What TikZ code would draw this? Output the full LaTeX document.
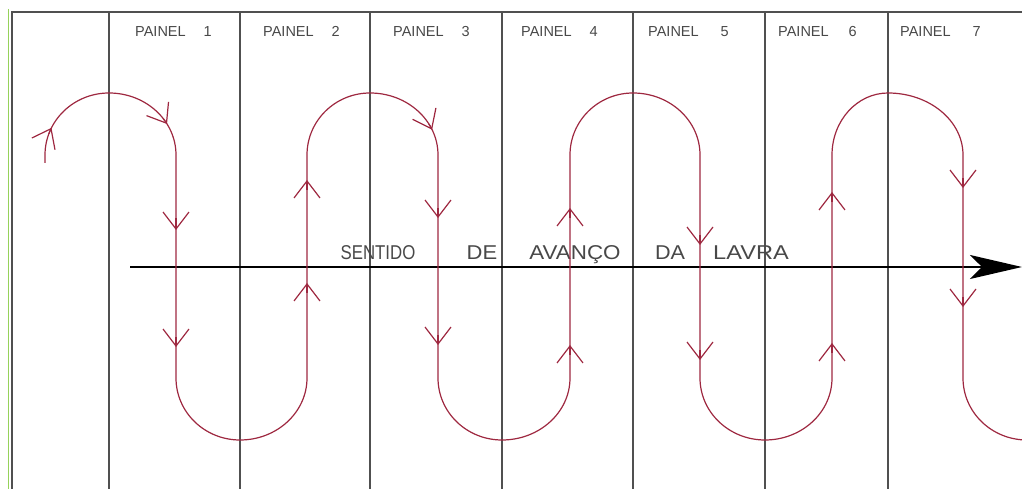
\documentclass[tikz,border=0pt]{standalone}
\usepackage{fontspec}
\setmainfont{Liberation Sans}
\usepackage{graphicx}
\usetikzlibrary{arrows.meta}
\usepackage{xcolor}
\definecolor{lvgrey}{RGB}{80,80,80}
\definecolor{lvtext}{RGB}{72,72,72}
\definecolor{lvred}{RGB}{158,40,64}
\definecolor{lvgreen}{RGB}{150,210,90}
\tikzset{
    painel/.style={
        draw=lvgrey,line width=1.8pt
    },
    rotulo/.style={
        anchor=base west,inner sep=0pt,
        font=\fontsize{14.5}{14.5}\selectfont,text=lvtext
    },
    legenda/.style={
        anchor=base,inner sep=0pt,
        font=\fontsize{20}{20}\selectfont,text=lvtext
    },
    trilha/.style={
        draw=lvred,line width=1.2pt
    },
    seta/.style={
        trilha,-{Straight Barb[length=17pt,width=26pt]}
    },
    eixo/.style={
        draw=black,line width=1.8pt,
        -{Stealth[length=52pt,width=24pt,inset=12pt]}
    }
}

\begin{document}
\begin{tikzpicture}[x=1pt,y=1pt]

\useasboundingbox (0,0) rectangle (1022,489);
\clip (0,0) rectangle (1022,489);

\draw[draw=lvgreen,line width=1pt] (8,480) -- (8,0);
\draw[painel] (12,0) -- (12,477) -- (1022,477);
\draw[painel] (109,477) -- (109,0);
\draw[painel] (240,477) -- (240,0);
\draw[painel] (370,477) -- (370,0);
\draw[painel] (502,477) -- (502,0);
\draw[painel] (633,477) -- (633,0);
\draw[painel] (765,477) -- (765,0);
\draw[painel] (888,477) -- (888,0);

\node[rotulo] (p1) at (135,452) {PAINEL\hspace{18pt}1};
\node[rotulo] (p2) at (263,452) {PAINEL\hspace{18pt}2};
\node[rotulo] (p3) at (393,452) {PAINEL\hspace{18pt}3};
\node[rotulo] (p4) at (521,452) {PAINEL\hspace{18pt}4};
\node[rotulo] (p5) at (648,452) {PAINEL\hspace{22pt}5};
\node[rotulo] (p6) at (778,452) {PAINEL\hspace{20pt}6};
\node[rotulo] (p7) at (900,452) {PAINEL\hspace{22pt}7};

\coordinate (ini) at (130,222);
\coordinate (fim) at (1022,222);
\draw[eixo] (ini) -- (fim);

\node[legenda] (sentido) at (378,229) {\scalebox{0.84}[1]{SENTIDO}};
\node[legenda] (de) at (482,229) {\scalebox{1.1}[1]{DE}};
\node[legenda] (avanco) at (575,229) {\scalebox{1.12}[1]{AVANÇO}};
\node[legenda] (da) at (670,229) {\scalebox{1.08}[1]{DA}};
\node[legenda] (lavra) at (751,229) {\scalebox{1.18}[1]{LAVRA}};

\draw[trilha] (45,326) -- (45,334)
    arc[start angle=180,end angle=90,x radius=64,y radius=62]
    arc[start angle=90,end angle=0,x radius=67,y radius=62]
    -- (176,111)
    arc[start angle=180,end angle=270,x radius=64,y radius=62]
    arc[start angle=270,end angle=360,x radius=67,y radius=62]
    -- (307,334)
    arc[start angle=180,end angle=90,x radius=63,y radius=62]
    arc[start angle=90,end angle=0,x radius=68,y radius=62]
    -- (438,111)
    arc[start angle=180,end angle=270,x radius=64,y radius=62]
    arc[start angle=270,end angle=360,x radius=68,y radius=62]
    -- (570,334)
    arc[start angle=180,end angle=90,x radius=63,y radius=62]
    arc[start angle=90,end angle=0,x radius=67,y radius=62]
    -- (700,111)
    arc[start angle=180,end angle=270,x radius=65,y radius=62]
    arc[start angle=270,end angle=360,x radius=67,y radius=62]
    -- (832,334)
    arc[start angle=180,end angle=90,x radius=56,y radius=62]
    arc[start angle=90,end angle=0,x radius=75,y radius=62]
    -- (963,111)
    arc[start angle=180,end angle=270,x radius=64,y radius=62]
    arc[start angle=270,end angle=360,x radius=64,y radius=62];

\draw[seta] ([shift={(160:64 and 62)}]109,334)
    arc[start angle=160,end angle=154,x radius=64,y radius=62];
\draw[seta] ([shift={(36:67 and 62)}]109,334)
    arc[start angle=36,end angle=30,x radius=67,y radius=62];
\draw[seta] ([shift={(30:68 and 62)}]370,334)
    arc[start angle=30,end angle=24,x radius=68,y radius=62];

\draw[seta] (176,271) -- (176,259);
\draw[seta] (176,152) -- (176,142);
\draw[seta] (307,299) -- (307,309);
\draw[seta] (307,196) -- (307,206);
\draw[seta] (438,281) -- (438,271);
\draw[seta] (438,154) -- (438,144);
\draw[seta] (570,271) -- (570,281);
\draw[seta] (570,134) -- (570,144);
\draw[seta] (700,254) -- (700,244);
\draw[seta] (700,139) -- (700,129);
\draw[seta] (832,287) -- (832,297);
\draw[seta] (832,136) -- (832,146);
\draw[seta] (963,311) -- (963,301);
\draw[seta] (963,192) -- (963,182);

\end{tikzpicture}
\end{document}
